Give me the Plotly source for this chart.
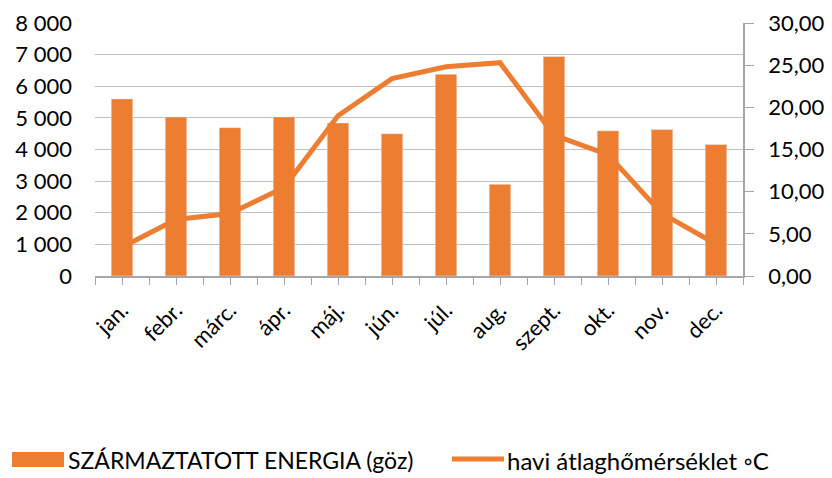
import plotly.graph_objects as go

months = ["jan.", "febr.", "márc.", "ápr.", "máj.", "jún.", "júl.", "aug.", "szept.", "okt.", "nov.", "dec."]
energy = [5600, 5030, 4690, 5030, 4840, 4500, 6380, 2900, 6940, 4590, 4630, 4160]
temp = [3.4, 6.7, 7.4, 10.5, 19.0, 23.4, 24.8, 25.3, 16.7, 14.4, 7.4, 3.8]
left_ticks = [0, 1000, 2000, 3000, 4000, 5000, 6000, 7000, 8000]
left_labels = ["0", "1 000", "2 000", "3 000", "4 000", "5 000", "6 000", "7 000", "8 000"]
right_ticks = [0, 5, 10, 15, 20, 25, 30]
right_labels = ["0,00", "5,00", "10,00", "15,00", "20,00", "25,00", "30,00"]
bar_name = "SZÁRMAZTATOTT ENERGIA (göz)"
line_name = "havi átlaghőmérséklet ◦C"

orange = "#ED7D31"
font = "Lato, Open Sans, sans-serif"
idx = list(range(len(months)))

# page body has an 8px margin; figure sized so its visible part fills the window
OFF = 8
W, H = 824, 470
L, T = 87, 15
PW, PH = 648, 253
R = W - L - PW
B = H - T - PH

fig = go.Figure()
fig.add_trace(go.Bar(x=idx, y=energy, name=bar_name,
                     marker=dict(color=orange), width=0.4, yaxis="y"))
fig.add_trace(go.Scatter(x=idx, y=temp, name=line_name,
                         mode="lines", line=dict(color=orange, width=5), yaxis="y2"))

def px(sx):
    return (sx - OFF - L) / PW

def py(sy):
    return 1 - (sy - OFF - T) / PH

fig.add_shape(type="rect", xref="paper", yref="paper",
              x0=px(12), x1=px(64), y0=py(467), y1=py(452),
              fillcolor=orange, line=dict(width=0))
fig.add_annotation(xref="paper", yref="paper", x=px(66), y=py(460), xanchor="left", yanchor="middle",
                   text=bar_name, showarrow=False, font=dict(size=23))
fig.add_shape(type="line", xref="paper", yref="paper",
              x0=px(452), x1=px(504), y0=py(459), y1=py(459),
              line=dict(color=orange, width=5))
fig.add_annotation(xref="paper", yref="paper", x=px(505), y=py(460), xanchor="left", yanchor="middle",
                   text=line_name, showarrow=False, font=dict(size=24))

fig.update_layout(
    width=W, height=H,
    margin=dict(l=L, r=R, t=T, b=B, pad=0),
    paper_bgcolor="white", plot_bgcolor="white",
    font=dict(family=font, size=22, color="#000000"),
    showlegend=False,
    xaxis=dict(range=[-0.5, 11.5], tickmode="array", tickvals=idx, ticktext=months,
               tickangle=-45, showgrid=False, zeroline=False, automargin=False,
               showline=True, linecolor="#a6a6a6", linewidth=1.5,
               ticks="outside", ticklen=7, tickcolor="#a6a6a6", ticklabelstandoff=4,
               minor=dict(tickmode="linear", tick0=-0.5, dtick=1, ticks="outside",
                          ticklen=7, tickcolor="#a6a6a6", showgrid=False),
               tickfont=dict(size=22)),
    yaxis=dict(range=[0, 8000], tickmode="array", tickvals=left_ticks, ticktext=left_labels,
               showgrid=True, gridcolor="#c0c0c0", gridwidth=1.2, zeroline=False, automargin=False,
               showline=False, ticks="", ticklabelstandoff=22, ticklabeloverflow="allow",
               tickfont=dict(size=22)),
    yaxis2=dict(range=[0, 30], overlaying="y", side="right", tickmode="array",
                tickvals=right_ticks, ticktext=right_labels, showgrid=False, zeroline=False,
                automargin=False, ticklabeloverflow="allow",
                showline=True, linecolor="#a6a6a6", linewidth=1.5,
                ticks="outside", ticklen=9, tickcolor="#a6a6a6", ticklabelstandoff=10,
                tickfont=dict(size=22)),
)

fig.write_html("out.html")
